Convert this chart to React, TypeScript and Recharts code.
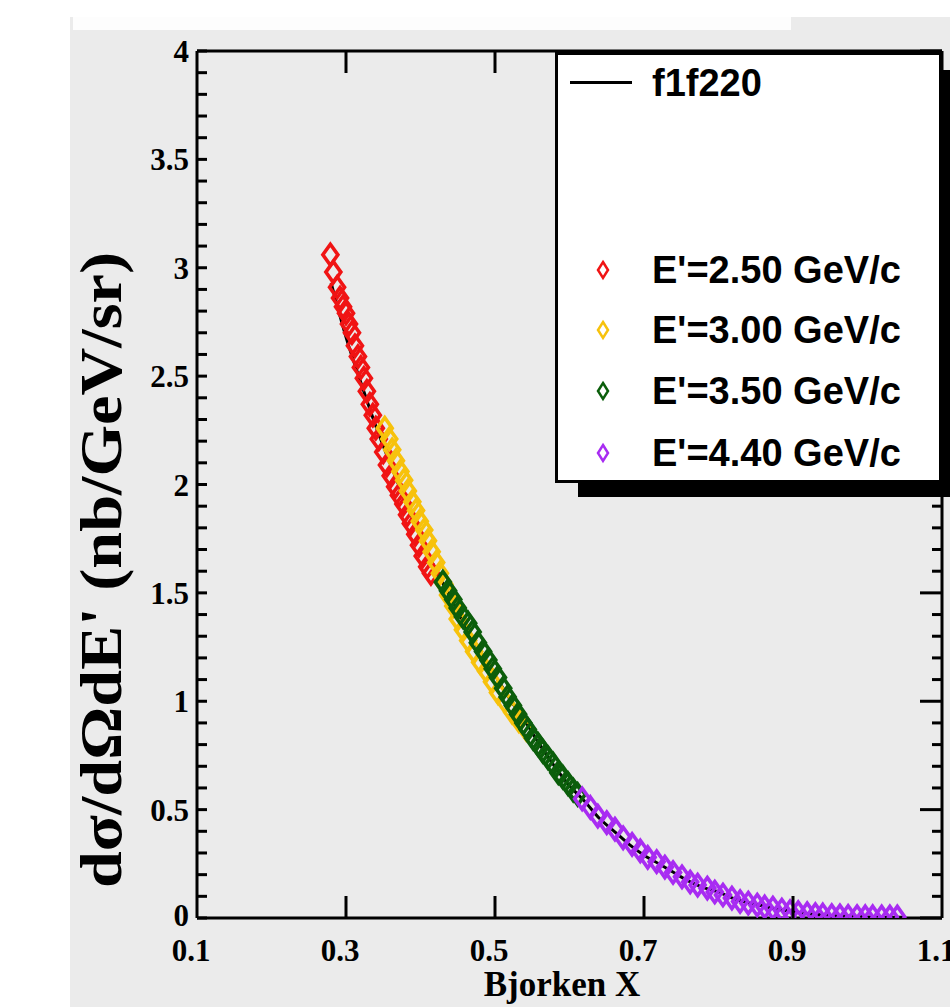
import React from "react";
import { ComposedChart, Line, Scatter, XAxis, YAxis, ReferenceLine, Label } from "recharts";

// model curve f1f220
const lineX = [0.28, 0.3, 0.32, 0.34, 0.36, 0.38, 0.4, 0.42, 0.44, 0.46, 0.48, 0.5, 0.52, 0.54, 0.56, 0.58, 0.6, 0.62, 0.64, 0.66, 0.68, 0.7, 0.72, 0.74, 0.76, 0.78, 0.8, 0.82, 0.84, 0.86, 0.88, 0.9, 0.92, 0.94, 0.96, 0.98, 1.0, 1.02, 1.05];
const lineY = [2.93, 2.68, 2.47, 2.27, 2.09, 1.92, 1.76, 1.61, 1.48, 1.35, 1.23, 1.12, 1.01, 0.91, 0.8, 0.7, 0.61, 0.54, 0.46, 0.4, 0.34, 0.29, 0.25, 0.21, 0.17, 0.14, 0.12, 0.09, 0.07, 0.055, 0.04, 0.03, 0.02, 0.015, 0.01, 0.008, 0.005, 0.004, 0.003];

// E'=2.50 GeV/c
const redX = [0.279, 0.283, 0.288, 0.292, 0.296, 0.3, 0.304, 0.308, 0.312, 0.316, 0.32, 0.324, 0.328, 0.332, 0.336, 0.34, 0.344, 0.35, 0.355, 0.36, 0.366, 0.371, 0.377, 0.382, 0.387, 0.393, 0.398, 0.403, 0.409, 0.414];
const redY = [3.06, 2.98, 2.91, 2.86, 2.82, 2.79, 2.74, 2.7, 2.64, 2.59, 2.54, 2.49, 2.43, 2.37, 2.32, 2.26, 2.21, 2.15, 2.09, 2.04, 1.99, 1.95, 1.91, 1.86, 1.82, 1.77, 1.72, 1.67, 1.62, 1.59];

// E'=3.00 GeV/c
const yelX = [0.352, 0.358, 0.362, 0.367, 0.373, 0.378, 0.383, 0.389, 0.394, 0.399, 0.405, 0.41, 0.415, 0.421, 0.426, 0.432, 0.437, 0.444, 0.45, 0.457, 0.464, 0.472, 0.48, 0.488, 0.496, 0.504, 0.513, 0.523, 0.532, 0.542];
const yelY = [2.26, 2.21, 2.16, 2.11, 2.06, 2.02, 1.97, 1.92, 1.88, 1.83, 1.79, 1.74, 1.69, 1.64, 1.59, 1.54, 1.49, 1.44, 1.38, 1.33, 1.28, 1.23, 1.18, 1.14, 1.09, 1.04, 1.0, 0.95, 0.91, 0.87];

// E'=3.50 GeV/c
const grnX = [0.43, 0.437, 0.444, 0.45, 0.457, 0.464, 0.47, 0.477, 0.484, 0.491, 0.497, 0.504, 0.511, 0.517, 0.524, 0.531, 0.538, 0.544, 0.551, 0.558, 0.564, 0.571, 0.578, 0.585, 0.591, 0.598, 0.605, 0.611];
const grnY = [1.55, 1.51, 1.47, 1.43, 1.39, 1.36, 1.32, 1.27, 1.23, 1.19, 1.15, 1.11, 1.06, 1.02, 0.98, 0.94, 0.9, 0.87, 0.83, 0.8, 0.77, 0.74, 0.71, 0.67, 0.65, 0.62, 0.59, 0.57];

// E'=4.40 GeV/c
const purX = [0.617, 0.628, 0.638, 0.65, 0.661, 0.672, 0.684, 0.695, 0.705, 0.717, 0.728, 0.739, 0.751, 0.762, 0.772, 0.785, 0.795, 0.806, 0.818, 0.829, 0.84, 0.852, 0.862, 0.873, 0.885, 0.896, 0.907, 0.919, 0.93, 0.94, 0.952, 0.963, 0.974, 0.986, 0.997, 1.007, 1.019, 1.03, 1.04];
const purY = [0.55, 0.51, 0.47, 0.44, 0.41, 0.37, 0.34, 0.31, 0.28, 0.26, 0.235, 0.21, 0.19, 0.166, 0.152, 0.138, 0.12, 0.106, 0.092, 0.076, 0.069, 0.06, 0.051, 0.046, 0.037, 0.03, 0.025, 0.02, 0.016, 0.014, 0.011, 0.01, 0.008, 0.007, 0.006, 0.006, 0.005, 0.005, 0.005];

const xTicks = [0.1, 0.3, 0.5, 0.7, 0.9, 1.1];
const yMajor = [0, 0.5, 1, 1.5, 2, 2.5, 3, 3.5, 4];
const yTicks = Array.from({ length: 41 }, (_, i) => i / 10);

const series = [
  { name: "E'=2.50 GeV/c", color: "#f01414", xs: redX, ys: redY },
  { name: "E'=3.00 GeV/c", color: "#f7c20c", xs: yelX, ys: yelY },
  { name: "E'=3.50 GeV/c", color: "#0b5e0b", xs: grnX, ys: grnY },
  { name: "E'=4.40 GeV/c", color: "#a82cf2", xs: purX, ys: purY },
];

const zip = (xs: number[], ys: number[]) => xs.map((x, i) => ({ x, y: ys[i] }));
const lineData = zip(lineX, lineY);

const PLOT_L = 197;
const PLOT_R = 942;
const PLOT_T = 51;
const PLOT_B = 918;
const serif = "'Liberation Serif', 'Times New Roman', serif";
const sans = "'Liberation Sans', Arial, sans-serif";

const diamond = (color: string) => (props: any) => {
  const { cx, cy } = props;
  if (cx == null || cy == null) return <g />;
  return (
    <path
      d={`M${cx},${cy - 10.5}L${cx + 7.5},${cy}L${cx},${cy + 10.5}L${cx - 7.5},${cy}Z`}
      fill="none"
      stroke={color}
      strokeWidth={3.6}
    />
  );
};

const XTick = (props: any) => {
  const { x, payload } = props;
  const v = payload.value;
  const inner = v > 0.15 && v < 1.05;
  return (
    <g>
      {inner && <line x1={x} x2={x} y1={PLOT_B} y2={PLOT_B - 22} stroke="#000" strokeWidth={3} />}
      {inner && <line x1={x} x2={x} y1={PLOT_T} y2={PLOT_T + 22} stroke="#000" strokeWidth={3} />}
      <text x={x - 6} y={961} textAnchor="middle" fontFamily={serif} fontWeight="bold" fontSize={31} fill="#000">
        {String(v)}
      </text>
    </g>
  );
};

const YTick = (props: any) => {
  const { y, payload } = props;
  const v = payload.value;
  const major = yMajor.some((m) => Math.abs(m - v) < 1e-6);
  return (
    <g>
      <line x1={PLOT_L} x2={PLOT_L + 10} y1={y} y2={y} stroke="#000" strokeWidth={3} />
      <line x1={PLOT_R} x2={PLOT_R - (major ? 22 : 10)} y1={y} y2={y} stroke="#000" strokeWidth={3} />
      {major && (
        <text x={189} y={y + (v === 0 ? 8 : 11)} textAnchor="end" fontFamily={serif} fontWeight="bold" fontSize={31} fill="#000">
          {String(v)}
        </text>
      )}
    </g>
  );
};

const LegendDiamond = ({ color }: { color: string }) => (
  <svg width={16} height={22} style={{ position: "absolute", left: 595, marginTop: -11 }}>
    <path d="M8,3L13,11L8,19L3,11Z" fill="none" stroke={color} strokeWidth={2.5} />
  </svg>
);

const rowY = [270, 330, 391, 453];

export default function App() {
  return (
    <div style={{ position: "absolute", left: 0, top: 0, width: 950, height: 1007, background: "#fff", overflow: "hidden" }}>
      <div style={{ position: "absolute", left: 70, top: 17, width: 880, height: 990, background: "#ebebeb" }} />
      <div style={{ position: "absolute", left: 73, top: 17, width: 718, height: 13, background: "#fdfdfd" }} />
      <div style={{ position: "absolute", left: 0, top: 0 }}>
        <ComposedChart
          width={950}
          height={1007}
          margin={{ top: PLOT_T, right: 950 - PLOT_R, bottom: 1007 - PLOT_B - 1, left: PLOT_L - 1 }}
        >
          <XAxis
            dataKey="x"
            type="number"
            domain={[0.1, 1.1]}
            ticks={xTicks}
            allowDataOverflow
            height={1}
            tickSize={0}
            tickLine={false}
            tick={XTick}
            interval={0}
            axisLine={{ stroke: "#000", strokeWidth: 3 }}
          >
            <Label
              content={() => (
                <text x={562} y={996} textAnchor="middle" fontFamily={serif} fontWeight="bold" fontSize={35} fill="#000">
                  Bjorken X
                </text>
              )}
            />
          </XAxis>
          <YAxis
            dataKey="y"
            type="number"
            domain={[0, 4]}
            ticks={yTicks}
            allowDataOverflow
            width={1}
            tickSize={0}
            tickLine={false}
            tick={YTick}
            interval={0}
            axisLine={{ stroke: "#000", strokeWidth: 3 }}
          >
            <Label
              content={() => (
                <text
                  transform="translate(121,570) rotate(-90)"
                  textAnchor="middle"
                  fontFamily={serif}
                  fontWeight="bold"
                  fontSize={60}
                  textLength={636}
                  lengthAdjust="spacingAndGlyphs"
                  fill="#000"
                >
                  dσ/dΩdE' (nb/GeV/sr)
                </text>
              )}
            />
          </YAxis>
          <ReferenceLine y={4} stroke="#000" strokeWidth={3} ifOverflow="visible" />
          <ReferenceLine x={1.1} stroke="#000" strokeWidth={3} ifOverflow="visible" />
          <Line
            data={lineData}
            dataKey="y"
            type="monotone"
            stroke="#000"
            strokeWidth={3}
            dot={false}
            activeDot={false}
            isAnimationActive={false}
          />
          {series.map((s) => (
            <Scatter
              key={s.name}
              name={s.name}
              data={zip(s.xs, s.ys)}
              dataKey="y"
              shape={diamond(s.color)}
              isAnimationActive={false}
            />
          ))}
        </ComposedChart>
      </div>
      {/* legend */}
      <div style={{ position: "absolute", left: 578, top: 70, width: 380, height: 427, background: "#000" }} />
      <div
        style={{
          position: "absolute",
          left: 555,
          top: 52,
          width: 387,
          height: 431,
          background: "#fff",
          border: "3px solid #000",
          boxSizing: "border-box",
        }}
      />
      <div style={{ position: "absolute", left: 570, top: 81, width: 62, height: 3, background: "#000" }} />
      <div
        style={{
          position: "absolute",
          left: 652,
          top: 83,
          transform: "translateY(-50%)",
          fontFamily: sans,
          fontWeight: "bold",
          fontSize: 38,
          lineHeight: "40px",
          color: "#000",
        }}
      >
        f1f220
      </div>
      {series.map((s, i) => (
        <div key={s.name} style={{ position: "absolute", left: 0, top: rowY[i], width: 950 }}>
          <LegendDiamond color={s.color} />
          <div
            style={{
              position: "absolute",
              left: 652,
              top: 0,
              transform: "translateY(-50%)",
              fontFamily: sans,
              fontWeight: "bold",
              fontSize: 38,
              lineHeight: "40px",
              color: "#000",
              whiteSpace: "nowrap",
            }}
          >
            {s.name}
          </div>
        </div>
      ))}
    </div>
  );
}
